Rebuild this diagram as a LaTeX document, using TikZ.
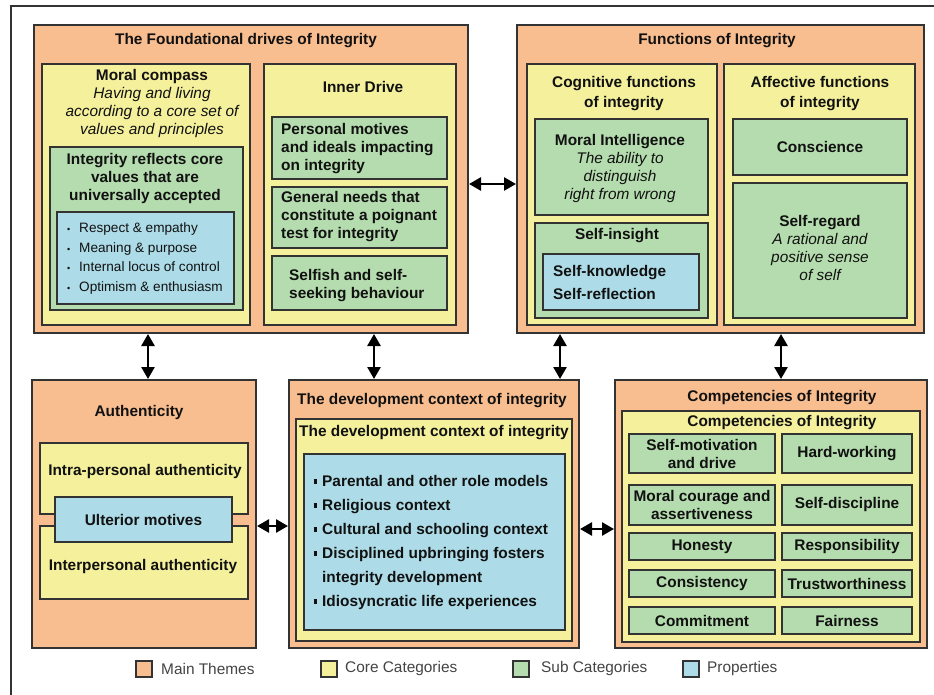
\documentclass[tikz,border=0pt]{standalone}
\usepackage{fontspec}
\setmainfont{Liberation Sans}
\usetikzlibrary{arrows.meta}
\definecolor{cOr}{HTML}{F8BE90}
\definecolor{cYe}{HTML}{F4F09C}
\definecolor{cGr}{HTML}{B5DCAE}
\definecolor{cBl}{HTML}{ADDCE8}
\definecolor{cEdge}{HTML}{333333}
\definecolor{cText}{HTML}{111111}
\definecolor{cLeg}{HTML}{444444}
\newcommand\bodyfont{\fontsize{15.4}{18}\selectfont}
\newcommand\ital[1]{{\mdseries\itshape #1}}
\newcommand\bul{\makebox[8pt][l]{\rule[3pt]{3pt}{4.5pt}}}
\newcommand\dotb{\makebox[12pt][l]{\fontsize{9}{9}\selectfont\textbullet}}
\tikzset{
  box/.style={draw=cEdge, line width=1.2pt, inner sep=0pt, outer sep=0pt},
  mainbox/.style={box, fill=cOr},
  corebox/.style={box, fill=cYe},
  subbox/.style={box, fill=cGr},
  propbox/.style={box, fill=cBl},
  txt/.style={inner sep=0pt, font=\bodyfont\bfseries, align=center, text=cText},
  ltxt/.style={txt, align=left, anchor=west},
  legtxt/.style={inner sep=0pt, anchor=west, font=\bodyfont, text=cLeg},
  link/.style={{Triangle[length=12pt,width=13pt]}-{Triangle[length=12pt,width=13pt]}, line width=2.6pt, black, shorten <=1pt, shorten >=1pt},
  outerframe/.style={draw=cEdge, line width=1.3pt}
}
\newcommand\bx[7]{\node[#6, minimum width=#4pt-#2pt, minimum height=#5pt-#3pt, anchor=north west] (#1) at (#2,#3) {#7};}
\begin{document}
\begin{tikzpicture}[x=1pt,y=-1pt]
\useasboundingbox (0,0) rectangle (934,695);
\fill[white] (0,0) rectangle (934,695);
\draw[outerframe] (934,6) -- (11,6) -- (11,695);

% ---------- Foundational drives ----------
\bx{fd}{34}{25}{468}{333}{mainbox}{}
\node[txt] (fdt) at (246,41) {The Foundational drives of Integrity};
\bx{mc}{42}{64}{250}{325}{corebox}{}
\node[txt] (mct) at (152,103.5) {Moral compass\\\ital{Having and living}\\\ital{according to a core set of}\\\ital{values and principles}};
\bx{mcsub}{50}{147}{243}{310}{subbox}{}
\node[txt] (mcsubt) at (145,178.5) {Integrity reflects core\\values that are\\universally accepted};
\bx{mcprop}{57}{212}{234}{304}{propbox}{}
\node[ltxt, font=\fontsize{13.6}{19.7}\selectfont\mdseries] (mcpropt) at (67,258.5) {\dotb Respect \& empathy\\\dotb Meaning \& purpose\\\dotb Internal locus of control\\\dotb Optimism \& enthusiasm};
\bx{id}{264}{64}{456}{325}{corebox}{}
\node[txt] (idt) at (363,87) {Inner Drive};
\bx{id1}{272}{117}{447}{179}{subbox}{}
\node[ltxt] (id1t) at (281,149) {Personal motives\\and ideals impacting\\on integrity};
\bx{id2}{272}{187}{447}{248}{subbox}{}
\node[ltxt] (id2t) at (281,217) {General needs that\\constitute a poignant\\test for integrity};
\bx{id3}{272}{256}{447}{310}{subbox}{}
\node[ltxt] (id3t) at (289,285.5) {Selfish and self-\\seeking behaviour};

% ---------- Functions ----------
\bx{fn}{517}{25}{924}{333}{mainbox}{}
\node[txt] (fnt) at (717,41) {Functions of Integrity};
\bx{cog}{527}{64}{717}{325}{corebox}{}
\node[txt, font=\fontsize{15.4}{20}\selectfont\bfseries] (cogt) at (624,94) {Cognitive functions\\of integrity};
\bx{mi}{535}{119}{708}{215}{subbox}{}
\node[txt] (mit) at (620,168.5) {Moral Intelligence\\\ital{The ability to}\\\ital{distinguish}\\\ital{right from wrong}};
\bx{si}{535}{223}{708}{318}{subbox}{}
\node[txt] (sit) at (617,236) {Self-insight};
\bx{siprop}{543}{254}{699}{310}{propbox}{}
\node[ltxt, font=\fontsize{15.4}{23}\selectfont\bfseries] (sipropt) at (553,282.5) {Self-knowledge\\Self-reflection};
\bx{aff}{724}{64}{915}{325}{corebox}{}
\node[txt, font=\fontsize{15.4}{20}\selectfont\bfseries] (afft) at (820,94) {Affective functions\\of integrity};
\bx{con}{733}{119}{907}{175}{subbox, txt}{Conscience}
\bx{sr}{733}{183}{907}{318}{subbox}{}
\node[txt] (srt) at (820,247.5) {Self-regard\\\ital{A rational and}\\\ital{positive sense}\\\ital{of self}};

% ---------- Authenticity ----------
\bx{au}{32}{380}{256}{648}{mainbox}{}
\node[txt] (aut) at (139,413) {Authenticity};
\bx{intra}{40}{443}{248}{514}{corebox}{}
\node[txt] (intrat) at (145,472) {Intra-personal authenticity};
\bx{inter}{40}{526}{248}{599}{corebox}{}
\node[txt] (intert) at (143,567) {Interpersonal authenticity};
\bx{ult}{55}{497}{232}{542}{propbox, txt}{Ulterior motives}

% ---------- Development context ----------
\bx{dc}{289}{380}{579}{648}{mainbox}{}
\node[txt] (dct) at (432,401) {The development context of integrity};
\bx{dcin}{296}{419}{572}{641}{corebox}{}
\node[txt] (dcint) at (434,433) {The development context of integrity};
\bx{dcprop}{304}{454}{565}{630}{propbox}{}
\node[ltxt, font=\fontsize{15.4}{24}\selectfont\bfseries] (dcpropt) at (314,543) {\bul Parental and other role models\\\bul Religious context\\\bul Cultural and schooling context\\\bul Disciplined upbringing fosters\\\hspace*{8pt}integrity development\\\bul Idiosyncratic life experiences};

% ---------- Competencies ----------
\bx{cp}{615}{380}{927}{648}{mainbox}{}
\node[txt] (cpt) at (782,398) {Competencies of Integrity};
\bx{cpin}{622}{411}{920}{642}{corebox}{}
\node[txt] (cpint) at (782,423) {Competencies of Integrity};
\bx{c11}{629}{434}{775}{473}{subbox, txt}{Self-motivation\\and drive}
\bx{c12}{782}{434}{912}{473}{subbox, txt}{Hard-working}
\bx{c21}{629}{485}{775}{525}{subbox, txt}{Moral courage and\\assertiveness}
\bx{c22}{782}{485}{912}{525}{subbox, txt}{Self-discipline}
\bx{c31}{629}{533}{775}{560}{subbox, txt}{Honesty}
\bx{c32}{782}{533}{912}{560}{subbox, txt}{Responsibility}
\bx{c41}{629}{570}{775}{597}{subbox, txt}{Consistency}
\bx{c42}{782}{570}{912}{597}{subbox, txt}{Trustworthiness}
\bx{c51}{629}{607}{775}{634}{subbox, txt}{Commitment}
\bx{c52}{782}{607}{912}{634}{subbox, txt}{Fairness}

% ---------- Connectors ----------
\coordinate (ax1) at (148,0);
\coordinate (ax2) at (374,0);
\coordinate (ax3) at (560,0);
\coordinate (ax4) at (781,0);
\coordinate (ay1) at (0,184);
\coordinate (ay2) at (0,526);
\coordinate (ay3) at (0,529);
\draw[link] (fd.south -| ax1) -- (au.north -| ax1);
\draw[link] (fd.south -| ax2) -- (dc.north -| ax2);
\draw[link] (fn.south -| ax3) -- (dc.north -| ax3);
\draw[link] (fn.south -| ax4) -- (cp.north -| ax4);
\draw[link] (fd.east |- ay1) -- (fn.west |- ay1);
\draw[link] (au.east |- ay2) -- (dc.west |- ay2);
\draw[link] (dc.east |- ay3) -- (cp.west |- ay3);

% ---------- Legend ----------
\bx{lg1}{136}{661}{152}{677}{mainbox}{}
\node[legtxt] (lg1t) at (161,669) {Main Themes};
\bx{lg2}{321}{661}{337}{677}{corebox}{}
\node[legtxt] (lg2t) at (345,669) {Core Categories};
\bx{lg3}{513}{661}{529}{677}{subbox}{}
\node[legtxt] (lg3t) at (541,669) {Sub Categories};
\bx{lg4}{683}{661}{699}{677}{propbox}{}
\node[legtxt] (lg4t) at (707,669) {Properties};
\end{tikzpicture}
\end{document}
